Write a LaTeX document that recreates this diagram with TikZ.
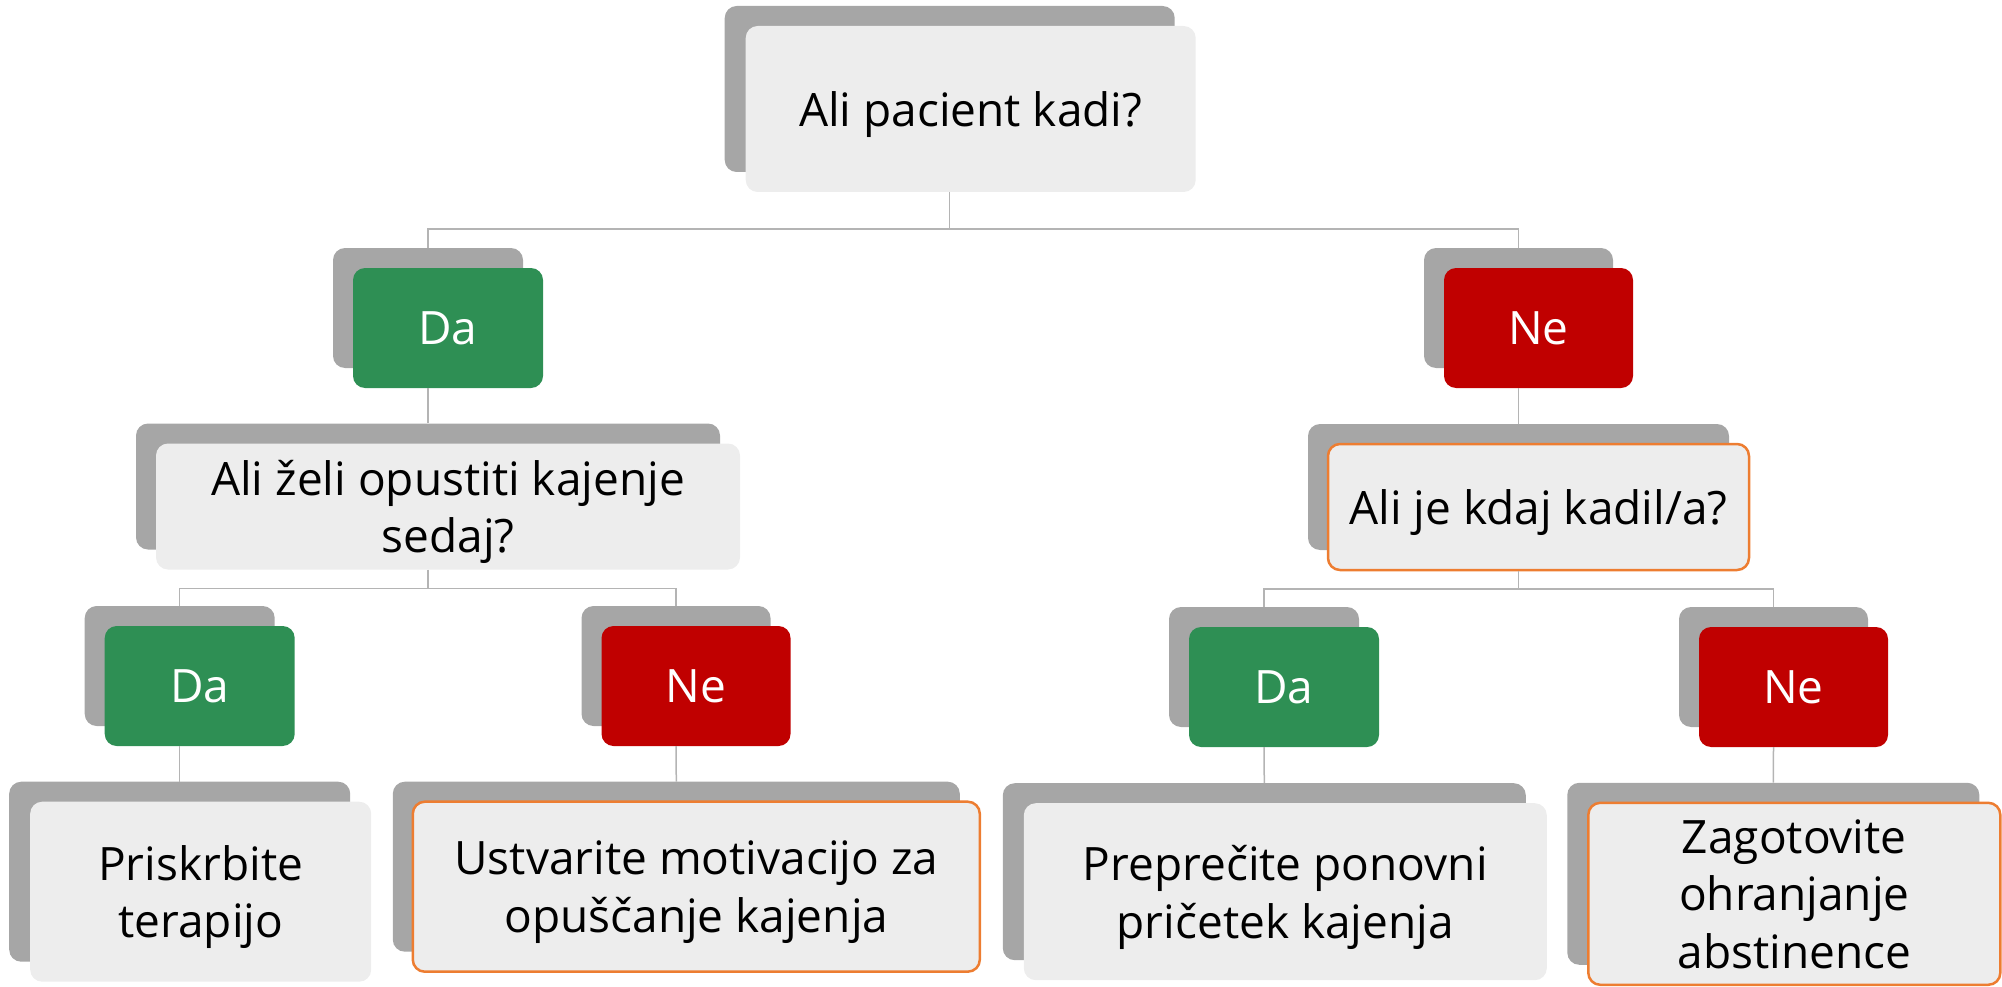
\documentclass[tikz,border=0pt]{standalone}
\usepackage{fontspec}
\setmainfont{Open Sans}
\definecolor{backgray}{HTML}{A6A6A6}
\definecolor{facegray}{HTML}{EDEDED}
\definecolor{yesgreen}{HTML}{2E8F54}
\definecolor{nored}{HTML}{C00000}
\definecolor{edgeorange}{HTML}{ED7D31}
\definecolor{linegray}{HTML}{B4B4B4}
\begin{document}
\begin{tikzpicture}[x=1pt,y=-1pt,
	back/.style={fill=backgray,rounded corners=12pt,inner sep=0pt},
	face/.style={fill=facegray,rounded corners=12pt,inner sep=0pt,align=center,text depth=0pt,font=\fontsize{46}{57.5}\selectfont},
	yesbox/.style={face,fill=yesgreen,text=white},
	nobox/.style={face,fill=nored,text=white},
	askbox/.style={face,draw=edgeorange,line width=2.5pt},
	conn/.style={draw=linegray,line width=1.5pt}]
	\useasboundingbox (0,0) rectangle (2002,987);

	% level 0
	\node[back,minimum width=450,minimum height=166] (q1b) at (949.7,89) {};
	\node[face,minimum width=450,minimum height=166] (q1) at ([shift={(21,20)}]q1b.center) {Ali pacient kadi?};

	% level 1
	\node[back,minimum width=190,minimum height=120] (da1b) at (428,308) {};
	\node[yesbox,minimum width=190,minimum height=120] (da1) at ([shift={(20,20)}]da1b.center) {Da};
	\node[back,minimum width=189,minimum height=120] (ne1b) at (1518.5,308) {};
	\node[nobox,minimum width=189,minimum height=120] (ne1) at ([shift={(20,20)}]ne1b.center) {Ne};

	% level 2
	\node[back,minimum width=584,minimum height=126] (q2b) at (428,486.5) {};
	\node[face,minimum width=584,minimum height=126] (q2) at ([shift={(20,20)}]q2b.center) {Ali želi opustiti kajenje\\sedaj?};
	\node[back,minimum width=421,minimum height=126] (q3b) at (1518.5,487) {};
	\node[askbox,minimum width=421,minimum height=126] (q3) at ([shift={(20,20)}]q3b.center) {Ali je kdaj kadil/a?};

	% level 3
	\node[back,minimum width=190,minimum height=120] (da2b) at (179.7,666) {};
	\node[yesbox,minimum width=190,minimum height=120] (da2) at ([shift={(20,20)}]da2b.center) {Da};
	\node[back,minimum width=189,minimum height=120] (ne2b) at (676,666) {};
	\node[nobox,minimum width=189,minimum height=120] (ne2) at ([shift={(20,20)}]ne2b.center) {Ne};
	\node[back,minimum width=190,minimum height=120] (da3b) at (1264,667) {};
	\node[yesbox,minimum width=190,minimum height=120] (da3) at ([shift={(20,20)}]da3b.center) {Da};
	\node[back,minimum width=189,minimum height=120] (ne3b) at (1773.5,667) {};
	\node[nobox,minimum width=189,minimum height=120] (ne3) at ([shift={(20,20)}]ne3b.center) {Ne};

	% level 4
	\node[back,minimum width=341,minimum height=180] (b1b) at (179.7,871.7) {};
	\node[face,minimum width=341,minimum height=180] (b1) at ([shift={(21,20)}]b1b.center) {Priskrbite\\terapijo};
	\node[back,minimum width=567,minimum height=170] (b2b) at (676.3,866.7) {};
	\node[askbox,minimum width=567,minimum height=170] (b2) at ([shift={(20,20)}]b2b.center) {Ustvarite motivacijo za\\opuščanje kajenja};
	\node[back,minimum width=523,minimum height=177] (b3b) at (1264.3,871.7) {};
	\node[face,minimum width=523,minimum height=177] (b3) at ([shift={(21,20)}]b3b.center) {Preprečite ponovni\\pričetek kajenja};
	\node[back,minimum width=412,minimum height=182] (b4b) at (1773.3,873.8) {};
	\node[askbox,minimum width=412,minimum height=182] (b4) at ([shift={(21,20)}]b4b.center) {Zagotovite\\ohranjanje\\abstinence};

	% connectors
	\coordinate (bus0) at (0,229);
	\coordinate (bus1) at (0,588.5);
	\coordinate (bus2) at (0,589);
	\draw[conn] (q1b |- q1.south) -- (q1b |- bus0);
	\draw[conn] (da1b.north) |- (q1b |- bus0) -| (ne1b.north);
	\draw[conn] (da1b |- da1.south) -- (q2b.north);
	\draw[conn] (ne1b |- ne1.south) -- (q3b.north);
	\draw[conn] (q2b |- q2.south) -- (q2b |- bus1);
	\draw[conn] (da2b.north) |- (q2b |- bus1) -| (ne2b.north);
	\draw[conn] (q3b |- q3.south) -- (q3b |- bus2);
	\draw[conn] (da3b.north) |- (q3b |- bus2) -| (ne3b.north);
	\draw[conn] (da2b |- da2.south) -- (b1b.north);
	\draw[conn] (ne2b |- ne2.south) -- (b2b.north);
	\draw[conn] (da3b |- da3.south) -- (b3b.north);
	\draw[conn] (ne3b |- ne3.south) -- (b4b.north);
\end{tikzpicture}
\end{document}
